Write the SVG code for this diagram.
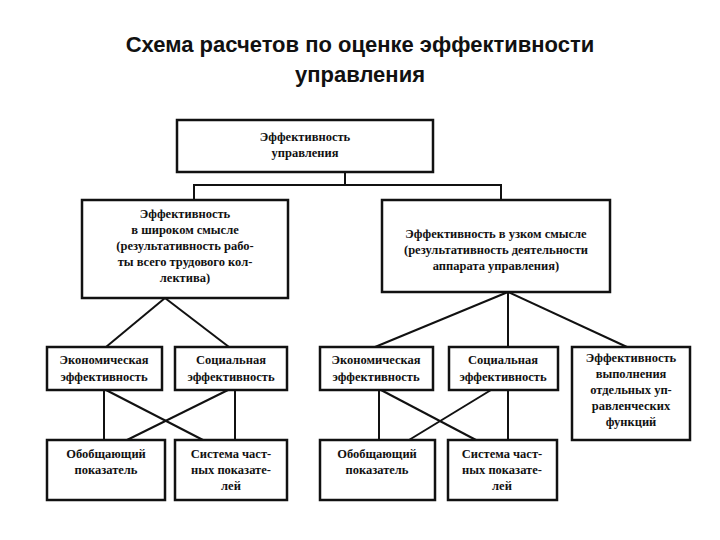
<svg xmlns="http://www.w3.org/2000/svg" width="720" height="540" viewBox="0 0 720 540">
<style>
.b{fill:#fff;stroke:#111;stroke-width:2.5}
.t{font-family:"Liberation Serif",serif;font-size:12.5px;font-weight:bold;fill:#111;text-anchor:middle}
.h{font-family:"Liberation Sans",Arial,sans-serif;font-size:22px;font-weight:bold;fill:#111;text-anchor:middle}
.c line,.c polyline{stroke:#111;stroke-width:2;fill:none}
</style>
<rect width="720" height="540" fill="#fff"/>
<text class="h" x="360" y="52">Схема расчетов по оценке эффективности</text>
<text class="h" x="360" y="82">управления</text>
<g class="c">
<line x1="345" y1="172" x2="345" y2="185"/>
<polyline points="194,200 194,185 501,185 501,200"/>
<line x1="165" y1="298" x2="106" y2="347"/>
<line x1="165" y1="298" x2="229" y2="347"/>
<line x1="104" y1="390" x2="104" y2="440"/>
<line x1="106" y1="390" x2="203" y2="440"/>
<line x1="235" y1="390" x2="235" y2="440"/>
<line x1="228" y1="390" x2="127" y2="440"/>
<line x1="508" y1="292" x2="375" y2="347"/>
<line x1="508" y1="292" x2="508" y2="347"/>
<line x1="508" y1="292" x2="627" y2="347"/>
<line x1="379" y1="390" x2="379" y2="440"/>
<line x1="381" y1="390" x2="476" y2="440"/>
<line x1="508" y1="390" x2="508" y2="440"/>
<line x1="491" y1="390" x2="409" y2="440"/>
</g>
<g id="top"><rect class="b" x="177" y="120" width="256" height="52"/>
<text class="t" x="305" y="141">Эффективность</text><text class="t" x="305" y="157">управления</text></g>
<g id="wide"><rect class="b" x="82" y="200" width="206" height="98"/>
<text class="t" x="185" y="218">Эффективность</text><text class="t" x="185" y="234">в широком смысле</text>
<text class="t" x="185" y="250">(результативность рабо-</text><text class="t" x="185" y="266">ты  всего трудового кол-</text>
<text class="t" x="185" y="282">лектива)</text></g>
<g id="narrow"><rect class="b" x="382" y="200" width="228" height="92"/>
<text class="t" x="496" y="238">Эффективность в узком смысле</text>
<text class="t" x="496" y="254">(результативность деятельности</text>
<text class="t" x="496" y="270">аппарата управления)</text></g>
<g id="econ1"><rect class="b" x="47" y="347" width="115" height="43"/>
<text class="t" x="104" y="364">Экономическая</text><text class="t" x="104" y="381">эффективность</text></g>
<g id="soc1"><rect class="b" x="175" y="347" width="112" height="43"/>
<text class="t" x="231" y="364">Социальная</text><text class="t" x="231" y="381">эффективность</text></g>
<g id="econ2"><rect class="b" x="320" y="347" width="113" height="43"/>
<text class="t" x="376" y="364">Экономическая</text><text class="t" x="376" y="381">эффективность</text></g>
<g id="soc2"><rect class="b" x="449" y="347" width="109" height="43"/>
<text class="t" x="503" y="364">Социальная</text><text class="t" x="503" y="381">эффективность</text></g>
<g id="func"><rect class="b" x="572" y="347" width="118" height="93"/>
<text class="t" x="631" y="362">Эффективность</text><text class="t" x="631" y="378">выполнения</text>
<text class="t" x="631" y="394">отдельных уп-</text><text class="t" x="631" y="410">равленческих</text>
<text class="t" x="631" y="426">функций</text></g>
<g id="gen1"><rect class="b" x="47" y="440" width="118" height="60"/>
<text class="t" x="106" y="458">Обобщающий</text><text class="t" x="106" y="474">показатель</text></g>
<g id="sys1"><rect class="b" x="175" y="440" width="112" height="60"/>
<text class="t" x="231" y="458">Система част-</text><text class="t" x="231" y="474">ных показате-</text><text class="t" x="231" y="490">лей</text></g>
<g id="gen2"><rect class="b" x="320" y="440" width="115" height="60"/>
<text class="t" x="377" y="458">Обобщающий</text><text class="t" x="377" y="474">показатель</text></g>
<g id="sys2"><rect class="b" x="448" y="440" width="109" height="60"/>
<text class="t" x="502" y="458">Система част-</text><text class="t" x="502" y="474">ных показате-</text><text class="t" x="502" y="490">лей</text></g>
</svg>
